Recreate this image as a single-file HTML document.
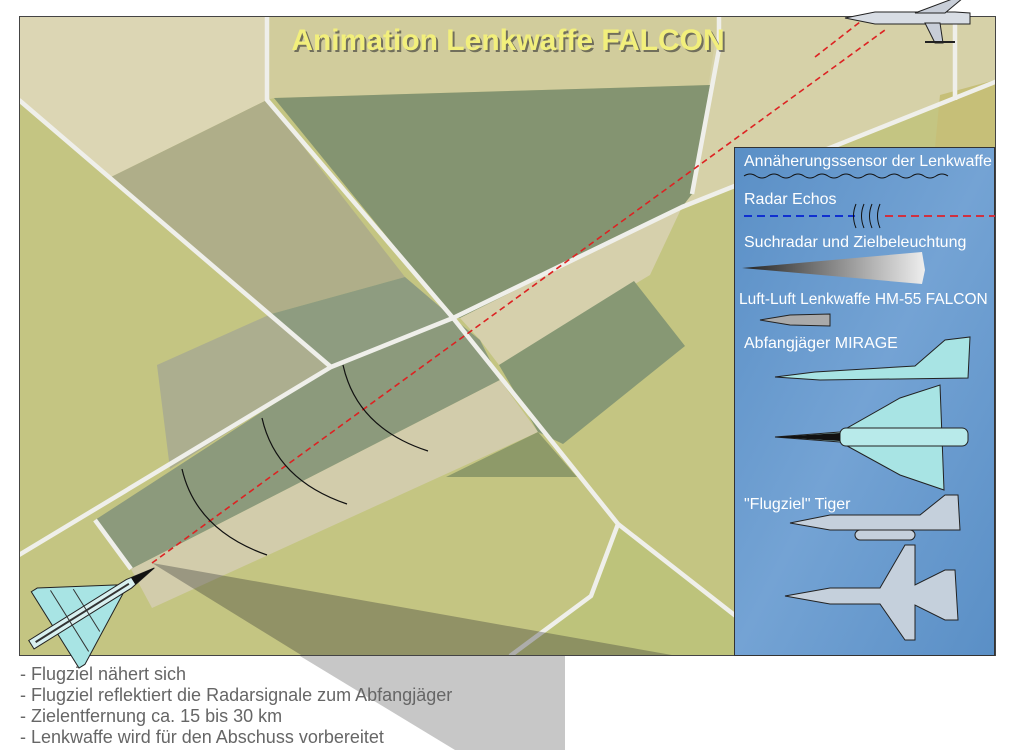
<!DOCTYPE html>
<html><head><meta charset="utf-8"><style>
body{margin:0;width:1013px;height:750px;background:#fff;overflow:hidden;font-family:"Liberation Sans",sans-serif}
svg{position:absolute;left:0;top:0}
</style></head><body>
<svg width="1013" height="750" viewBox="0 0 1013 750">
<defs>
<clipPath id="m"><rect x="19" y="16" width="976" height="639"/></clipPath>
<linearGradient id="cone" x1="0" x2="1"><stop offset="0" stop-color="#222"/><stop offset="1" stop-color="#eee"/></linearGradient>
<linearGradient id="blu" x1="0" x2="1" y1="0" y2="1"><stop offset="0" stop-color="#5a8fc6"/><stop offset="0.5" stop-color="#74a3d4"/><stop offset="1" stop-color="#5a8fc6"/></linearGradient>
</defs>
<g clip-path="url(#m)">
<rect x="19" y="16" width="976" height="639" fill="#c4c582"/>
<polygon points="19,16 267,16 267,100 111,177 19,100" fill="#dcd6b4"/>
<polygon points="267,16 719,16 710,85 274,98 267,100" fill="#d1cc9c"/>
<polygon points="719,16 995,16 995,80 682,207 692,194" fill="#d6d1a8"/>
<polygon points="940,95 995,80 995,160 930,200" fill="#c6bf78"/>
<polygon points="111,177 267,100 405,277 271,314" fill="#afae89"/>
<polygon points="274,98 710,85 692,194 682,207 460,318 453,318" fill="#849471"/>
<polygon points="271,314 405,277 453,318 331,367" fill="#8e9c80"/>
<polygon points="157,365 271,314 331,367 170,469" fill="#acae8f"/>
<polygon points="460,318 682,207 650,275 499,365 480,340" fill="#d6d0ac"/>
<polygon points="95,520 331,367 453,318 480,340 500,380 131,569" fill="#8c9a7c"/>
<polygon points="131,569 500,380 538,432 152,608" fill="#d2ccab"/>
<polygon points="499,365 634,281 685,346 563,444 538,432" fill="#879874"/>
<polygon points="446,477 538,432 577,477" fill="#8e9a69"/>
<polygon points="618,524 739,616 739,656 510,656 591,596" fill="#bdc37b"/>
<g stroke="#efefea" stroke-width="4.5" fill="none" stroke-linejoin="round">
<polyline points="267,16 267,100 453,318 618,524 760,635"/>
<polyline points="618,524 591,596 510,656"/>
<polyline points="19,100 331,367"/>
<polyline points="19,555 331,367 453,318 682,207 1000,80"/>
<polyline points="719,16 719,49 692,194"/>
<polyline points="95,520 131,569"/>
<polyline points="955,16 955,100"/>
</g>
<polygon points="152,563 700,660 455,750" fill="#333" opacity="0.35"/>
</g>
<polygon points="300,656 565,656 565,750 455,750" fill="#c7c7c7"/>
<rect x="19.5" y="16.5" width="976" height="639" fill="none" stroke="#444"/>
<text x="510" y="52" text-anchor="middle" font-size="30" font-weight="bold" fill="#333" opacity="0.6">Animation Lenkwaffe FALCON</text>
<text x="508" y="50" text-anchor="middle" font-size="30" font-weight="bold" fill="#f2ef7c">Animation Lenkwaffe FALCON</text>
<g stroke="#d22" stroke-width="1.6" stroke-dasharray="6,4" fill="none">
<line x1="152" y1="563" x2="885" y2="30"/>
<line x1="815" y1="57" x2="860" y2="22"/>
</g>
<g stroke="#111" fill="none" stroke-width="1.2">
<path d="M182,469 Q196,530 267,555"/>
<path d="M262,418 Q276,480 347,504"/>
<path d="M343,365 Q357,428 428,451"/>
</g>
<g transform="translate(95,605) rotate(-32)">
<polygon points="30,-5 -40,-45 -47,-45 -47,45 -40,45 30,5" fill="#a8e4e4" stroke="#222"/>
<polygon points="70,0 40,-5 -75,-5 -75,5 40,5" fill="#d8f0f0" stroke="#222"/>
<polygon points="70,0 45,-4 45,4" fill="#111"/>
<line x1="40" y1="0" x2="-70" y2="0" stroke="#333" stroke-width="2"/>
<line x1="-10" y1="-25" x2="-10" y2="25" stroke="#333"/>
<line x1="-30" y1="-36" x2="-30" y2="36" stroke="#333"/>
</g>
<g transform="translate(915,18)">
<polygon points="-70,0 -40,-6 40,-6 55,-5 55,6 -40,6" fill="#d8dde4" stroke="#222"/>
<polygon points="0,-5 40,-20 48,-20 30,-5" fill="#c8ced8" stroke="#222"/>
<polygon points="10,5 20,25 28,25 25,5" fill="#c8ced8" stroke="#222"/>
<line x1="10" y1="24" x2="40" y2="24" stroke="#222" stroke-width="2"/>
</g>
<rect x="734.5" y="147.5" width="260" height="508" fill="url(#blu)" stroke="#333"/>
<g fill="#fff" font-size="16">
<text x="744" y="166">Annäherungssensor der Lenkwaffe</text>
<text x="744" y="204">Radar Echos</text>
<text x="744" y="247">Suchradar und Zielbeleuchtung</text>
<text x="739" y="304" font-size="15.5">Luft-Luft Lenkwaffe HM-55 FALCON</text>
<text x="744" y="348">Abfangjäger MIRAGE</text>
<text x="744" y="509">"Flugziel" Tiger</text>
</g>
<path d="M744,176 q6,-4 12,0 t12,0 t12,0 t12,0 t12,0 t12,0 t12,0 t12,0 t12,0 t12,0 t12,0 t12,0 t12,0 t12,0 t12,0 t12,0 t12,0" stroke="#111" fill="none"/>
<line x1="744" y1="216" x2="855" y2="216" stroke="#1030d0" stroke-width="2" stroke-dasharray="8,5"/>
<line x1="885" y1="216" x2="995" y2="216" stroke="#d03040" stroke-width="2" stroke-dasharray="8,5"/>
<g stroke="#111" fill="none"><path d="M856,204 q-5,12 0,24"/><path d="M864,204 q-5,12 0,24"/><path d="M872,204 q-5,12 0,24"/><path d="M880,204 q-5,12 0,24"/></g>
<polygon points="742,268 922,252 925,270 922,284" fill="url(#cone)"/>
<polygon points="760,320 790,315 830,314 830,326 790,325" fill="#aaa" stroke="#222"/>
<polygon points="775,377 815,372 915,366 945,340 970,337 968,378 820,380" fill="#a8e4e4" stroke="#222"/>
<polygon points="775,437 840,432 900,398 940,385 944,490 900,475 840,442" fill="#a8e4e4" stroke="#222"/>
<rect x="840" y="428" width="128" height="18" rx="6" fill="#b8eaea" stroke="#222"/>
<polygon points="775,437 840,433 840,441" fill="#111"/>
<polygon points="790,523 830,515 920,515 945,495 958,495 960,530 830,530" fill="#c5d0dc" stroke="#222"/>
<rect x="855" y="530" width="60" height="10" rx="5" fill="#c5d0dc" stroke="#222"/>
<polygon points="785,596 830,588 880,588 905,545 915,545 915,585 945,570 955,570 958,620 945,620 915,605 915,640 905,640 880,604 830,604" fill="#c5d0dc" stroke="#222"/>
<g fill="#666" font-size="18">
<text x="20" y="680">- Flugziel nähert sich</text>
<text x="20" y="701">- Flugziel reflektiert die Radarsignale zum Abfangjäger</text>
<text x="20" y="722">- Zielentfernung ca. 15 bis 30 km</text>
<text x="20" y="743">- Lenkwaffe wird für den Abschuss vorbereitet</text>
</g>
</svg>
</body></html>
